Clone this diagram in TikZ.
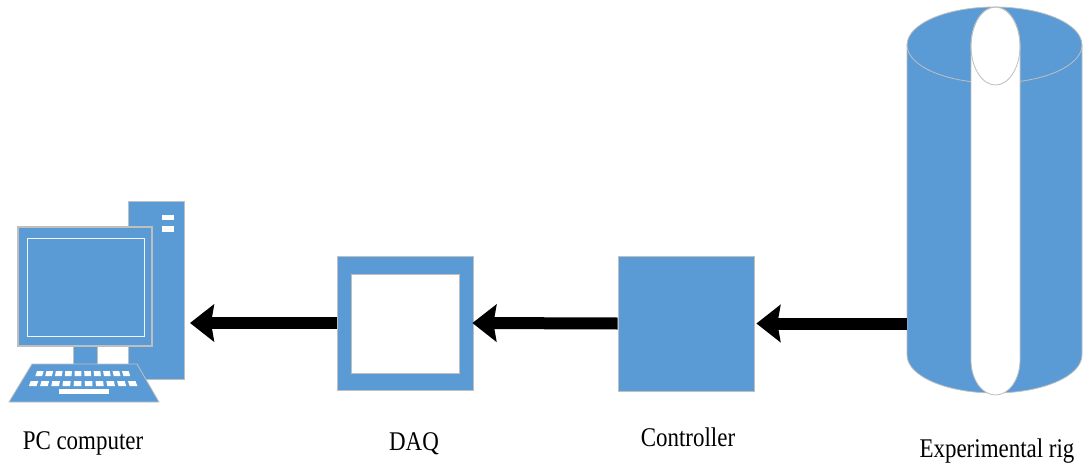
\documentclass[tikz,border=0pt]{standalone}
\usepackage{fontspec}
\setmainfont[FakeStretch=0.85]{Liberation Serif}
\usepackage{tikz}
\usetikzlibrary{positioning,arrows.meta}
\definecolor{ofiAzul}{HTML}{5B9BD5}
\definecolor{ofiGris}{HTML}{BFBFBF}
\colorlet{colBorde}{ofiGris}

\begin{document}
\begin{tikzpicture}[x=1pt, y=-1pt, font=\fontsize{27}{32}\selectfont,
    pieza/.style={fill=ofiAzul, draw=colBorde, line width=0.8pt},
    caja/.style={pieza, rectangle, minimum width=136pt, minimum height=134pt, inner sep=0pt},
    flecha/.style={line width=12pt, -{Stealth[length=24pt, width=37pt, inset=3pt]}},
    rotulo/.style={anchor=base, inner sep=0pt}]
        \useasboundingbox (0,0) rectangle (1085,463);

        % PC: torre
        \draw[pieza] (128,201) rectangle (184,379);
        \fill[white] (162,215) rectangle (174,220);
        \fill[white] (162,226) rectangle (174,232);
        % PC: monitor
        \draw[pieza, line width=1.4pt] (18,227) rectangle (152,346);
        \draw[white!90!ofiAzul, line width=1pt] (27,238) rectangle (144,336);
        \draw[pieza] (73,346) rectangle (97,364);
        % PC: teclado
        \draw[pieza] (32,364) -- (137,364) -- (159,402) -- (9,402) -- cycle;
        \foreach \i in {0,...,9} {
            \fill[white] ({37+9.44*\i},371) -- ++(6.7,0) -- ++({0.35*(\i-4.5)},5) -- ++(-6.7,0) -- cycle;
            \fill[white] ({30.7+10.8*\i},381) -- ++(7.6,0) -- ++({0.4*(\i-4.5)},5) -- ++(-7.6,0) -- cycle;
        }
        \fill[white] (59,389) rectangle (109,394);
        \coordinate (pc) at (190,323);

        % DAQ
        \node[caja] (daq) at (405,323) {};
        \draw[fill=white, draw=colBorde, line width=0.6pt] (351,274) rectangle (459,373);

        % Controlador
        \node[caja, minimum height=135pt] (ctrl) at (686,323.5) {};

        % Banco experimental (cilindro)
        \node[minimum width=175pt, minimum height=386pt, inner sep=0pt] (rig) at (994.5,200) {};
        \draw[pieza] (907,45) -- (907,355) arc[start angle=180, end angle=0, x radius=87.5, y radius=38]
            -- (1082,45) arc[start angle=0, end angle=-180, x radius=87.5, y radius=38] -- cycle;
        \draw[colBorde, line width=0.8pt] (907,45) arc[start angle=180, end angle=0, x radius=87.5, y radius=38];
        \draw[fill=white, draw=colBorde, line width=0.8pt] (971,46) -- (971,360)
            arc[start angle=180, end angle=0, x radius=24.5, y radius=35]
            -- (1020,46) arc[start angle=0, end angle=-180, x radius=24.5, y radius=39] -- cycle;
        \draw[colBorde, line width=0.8pt] (995.5,46) ellipse[x radius=24.5, y radius=39];

        % Flujo de la señal
        \draw[flecha] (daq.west) -- (pc);
        \draw[flecha] (ctrl.west) -- ([xshift=-1pt]daq.east);
        \draw[flecha] (rig.west |- ctrl.west) -- ([xshift=2pt]ctrl.east);

        % Rotulos
        \node[rotulo] (tpc) at (83,449) {PC computer};
        \node[rotulo] (tdaq) at (414,450) {DAQ};
        \node[rotulo] (tctrl) at (688,446) {Controller};
        \node[rotulo] (trig) at (997,457) {Experimental rig};
    \end{tikzpicture}
\end{document}
